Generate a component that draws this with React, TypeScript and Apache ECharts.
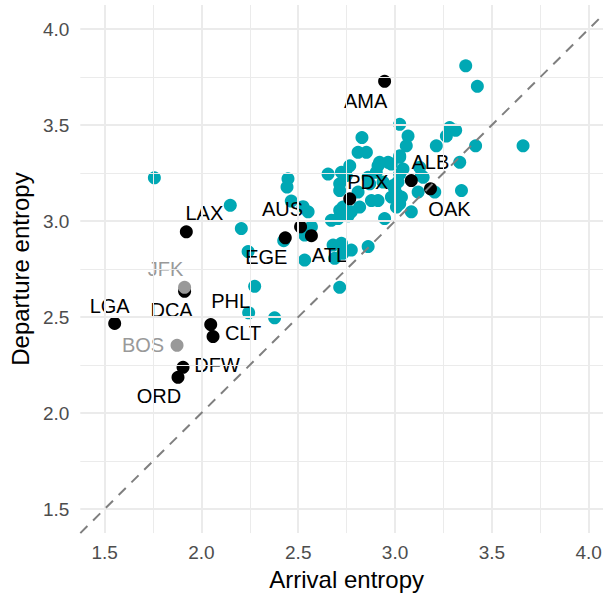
import React, { useEffect, useRef } from "react";
import * as echarts from "echarts";

// Other airports (teal)
const otherArrival = [
  1.757, 2.149, 2.206, 2.241, 2.275, 2.244, 2.378, 2.425, 2.447, 2.442,
  2.464, 2.525, 2.551, 2.568, 2.533, 2.533, 2.654, 2.723, 2.714, 2.766,
  2.809, 2.852, 2.829, 2.920, 2.964, 3.024, 2.903, 2.938, 3.015, 2.998,
  2.878, 2.912, 2.981, 3.007, 2.817, 2.714, 2.671, 2.946, 2.731, 2.774,
  2.714, 2.809, 2.706, 2.723, 2.680, 2.774, 2.731, 2.861, 2.688, 2.714,
  3.024, 3.067, 3.058, 3.024, 2.981, 3.041, 3.127, 3.024, 3.136, 2.990,
  3.007, 3.119, 3.024, 3.084, 3.282, 3.313, 3.265, 3.213, 3.416, 3.661,
  3.334, 3.343, 3.205, 3.145, 3.365, 3.425, 2.912, 2.748, 2.869, 2.757,
  3.033, 2.861,
];
const otherDeparture = [
  3.225, 3.082, 2.961, 2.841, 2.660, 2.522, 2.496, 2.898, 3.220, 3.177,
  3.104, 3.075, 3.048, 2.970, 2.927, 2.797, 3.245, 3.254, 3.194, 3.288,
  3.358, 3.358, 3.435, 3.306, 3.306, 3.340, 3.254, 3.203, 3.203, 3.168,
  3.107, 3.107, 3.125, 3.073, 3.073, 3.056, 3.004, 3.013, 3.073, 3.048,
  3.159, 3.151, 3.013, 2.884, 2.875, 2.849, 2.832, 2.867, 2.806, 2.655,
  3.504, 3.443, 3.392, 3.332, 3.297, 3.271, 3.280, 3.245, 3.237, 3.185,
  3.142, 3.151, 3.090, 3.048, 3.487, 3.473, 3.443, 3.392, 3.392, 3.392,
  3.306, 3.159, 3.151, 3.228, 3.809, 3.702, 3.288, 3.237, 3.194, 3.027,
  3.125, 3.228,
];

// Highlighted airports (black)
const hubCodes = ["AMA", "LAX", "AUS", "EGE", "ATL", "PDX", "ALB", "OAK", "DCA", "LGA", "PHL", "CLT", "DFW", "ORD"];
const hubArrival = [2.946, 1.922, 2.512, 2.433, 2.568, 2.766, 3.084, 3.183, 1.913, 1.552, 2.048, 2.060, 1.905, 1.879];
const hubDeparture = [3.728, 2.944, 2.970, 2.913, 2.924, 3.116, 3.211, 3.168, 2.634, 2.467, 2.461, 2.398, 2.238, 2.186];

// Grey airports
const greyCodes = ["JFK", "BOS"];
const greyArrival = [1.913, 1.874];
const greyDeparture = [2.655, 2.353];

// Axis ticks
const majorTicks = [1.5, 2.0, 2.5, 3.0, 3.5, 4.0];
const minorTicks = [1.75, 2.25, 2.75, 3.25, 3.75];
const axisMin = 1.3745;
const axisMax = 4.1255;

// Label placement (pixel offsets from point centre), layout only
const labelOffset: Record<string, [number, number]> = {
  AMA: [-19, 20],
  LAX: [18, -19],
  AUS: [-18, -18],
  EGE: [-19, 19],
  ATL: [18, 19],
  PDX: [18, -17],
  ALB: [19, -19],
  OAK: [19, 20],
  JFK: [-19, -18],
  DCA: [-13, 19],
  LGA: [-5, -17],
  PHL: [20, -24],
  CLT: [30, -4],
  BOS: [-34, 0],
  DFW: [34, -2],
  ORD: [-19, 19],
};

const FONT = "'Liberation Sans', Arial, Helvetica, sans-serif";
const TEAL = "#00A8B4";
const GREY = "#999999";
const GRID = "#EBEBEB";

export default function App() {
  const ref = useRef<HTMLDivElement>(null);

  useEffect(() => {
    if (!ref.current) return;
    const chart = echarts.init(ref.current, undefined, { renderer: "svg" });

    const otherData = otherArrival.map((x, i) => [x, otherDeparture[i]]);
    const hubData = hubCodes.map((c, i) => ({
      name: c,
      value: [hubArrival[i], hubDeparture[i]],
      label: { offset: labelOffset[c] },
    }));
    const greyData = greyCodes.map((c, i) => ({
      name: c,
      value: [greyArrival[i], greyDeparture[i]],
      label: { offset: labelOffset[c] },
    }));

    const gridLines = [
      ...majorTicks.map((v) => ({ xAxis: v, lineStyle: { width: 2 } })),
      ...majorTicks.map((v) => ({ yAxis: v, lineStyle: { width: 2 } })),
      ...minorTicks.map((v) => ({ xAxis: v, lineStyle: { width: 1 } })),
      ...minorTicks.map((v) => ({ yAxis: v, lineStyle: { width: 1 } })),
    ];

    const axisCommon = {
      type: "value" as const,
      min: axisMin,
      max: axisMax,
      nameLocation: "middle" as const,
      nameTextStyle: { fontSize: 24, color: "#000", fontFamily: FONT },
      axisLine: { show: false },
      axisTick: { show: false },
      splitLine: { show: false },
      axisLabel: {
        customValues: majorTicks,
        fontSize: 19,
        color: "#4D4D4D",
        fontFamily: FONT,
        formatter: (v: number) => v.toFixed(1),
      },
    };

    const pointLabel = (color: string) => ({
      show: true,
      position: "inside",
      formatter: "{b}",
      fontSize: 20,
      color,
      fontFamily: FONT,
      textBorderWidth: 0,
    });

    chart.setOption({
      animation: false,
      grid: { left: 79, right: 0, top: 5, bottom: 59, containLabel: false },
      xAxis: {
        ...axisCommon,
        name: "Arrival entropy",
        nameGap: 31,
        axisLabel: { ...axisCommon.axisLabel, margin: 10 },
      },
      yAxis: {
        ...axisCommon,
        name: "Departure entropy",
        nameRotate: 90,
        nameGap: 45,
        axisLabel: { ...axisCommon.axisLabel, margin: 11 },
      },
      series: [
        {
          type: "scatter",
          data: [],
          z: 0,
          silent: true,
          markLine: {
            silent: true,
            symbol: "none",
            label: { show: false },
            lineStyle: { color: GRID, type: "solid" },
            data: gridLines,
          },
        },
        {
          type: "scatter",
          data: [],
          z: 1,
          silent: true,
          markLine: {
            silent: true,
            symbol: "none",
            label: { show: false },
            lineStyle: { color: "#7F7F7F", type: [10, 8], width: 2 },
            data: [[{ coord: [axisMin, axisMin] }, { coord: [axisMax, axisMax] }]],
          },
        },
        {
          type: "scatter",
          z: 2,
          symbolSize: 13,
          itemStyle: { color: TEAL, opacity: 1 },
          data: otherData,
        },
        {
          type: "scatter",
          z: 3,
          symbolSize: 13,
          itemStyle: { color: "#000000", opacity: 1 },
          label: pointLabel("#000"),
          data: hubData,
        },
        {
          type: "scatter",
          z: 4,
          symbolSize: 13,
          itemStyle: { color: GREY, opacity: 1 },
          label: pointLabel(GREY),
          data: greyData,
        },
      ],
    });

    return () => chart.dispose();
  }, []);

  return (
    <div style={{ position: "absolute", left: 0, top: 0, width: 603, height: 596, overflow: "hidden", background: "#fff" }}>
      <div ref={ref} style={{ width: 613, height: 596 }} />
    </div>
  );
}
